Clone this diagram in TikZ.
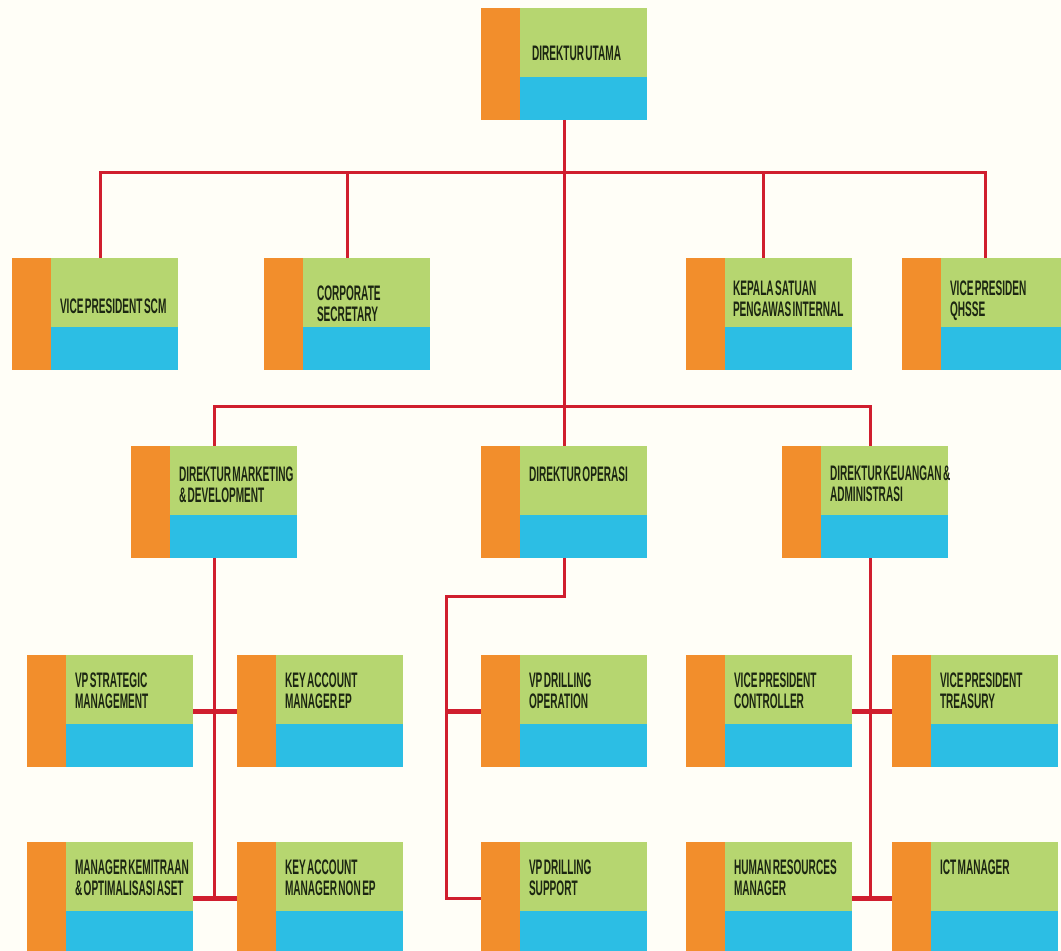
\documentclass[tikz,border=0pt]{standalone}
\usepackage{fontspec}
\usepackage{tikz}
\usetikzlibrary{positioning}
\usepackage{xcolor}
\newfontfamily\orgfont[FakeStretch=0.48,WordSpace=0.5]{Liberation Sans Bold}
\definecolor{orgorange}{RGB}{242,142,44}
\definecolor{orggreen}{RGB}{182,214,112}
\definecolor{orgblue}{RGB}{44,190,228}
\definecolor{orgred}{RGB}{208,30,46}
\definecolor{orgtext}{RGB}{28,38,18}
\definecolor{orgpaper}{RGB}{255,254,247}
\tikzstyle{org_box}=[rectangle, minimum width=166pt, minimum height=112pt, inner sep=0pt, fill=orggreen,
    path picture={
        \fill[orgorange] (path picture bounding box.north west) rectangle ([xshift=39pt]path picture bounding box.south west);
        \fill[orgblue] ([xshift=39pt,yshift=43pt]path picture bounding box.south west) rectangle (path picture bounding box.south east);
    }]
\tikzstyle{org_label}=[inner sep=0pt, align=left, text=orgtext, font=\orgfont\fontsize{21pt}{21pt}\selectfont]
\tikzstyle{connect}=[line width=3pt, orgred]
\tikzstyle{connect tie}=[line width=5pt, orgred]

\begin{document}
\begin{tikzpicture}[x=1pt, y=-1pt]
    \fill[orgpaper] (0,0) rectangle (1061,951);
    \clip (0,0) rectangle (1061,951);

% board and staff
        \node[org_box] (dirut) at (564,64) {};
        \node[org_box] (vpscm) at (95,314) {};
        \node[org_box] (corsec) at (347,314) {};
        \node[org_box] (spi) at (769,314) {};
        \node[org_box] (qhsse) at (985,314) {};
        % directors
        \node[org_box] (dirmkt) at (214,502) {};
        \node[org_box] (dirops) at (564,502) {};
        \node[org_box] (dirkeu) at (865,502) {};
        % vice presidents and managers
        \node[org_box] (vpsm) at (110,711) {};
        \node[org_box] (kamep) at (320,711) {};
        \node[org_box] (vpdo) at (564,711) {};
        \node[org_box] (vpctrl) at (769,711) {};
        \node[org_box] (vptrs) at (975,711) {};
        \node[org_box] (mkoa) at (110,898) {};
        \node[org_box] (kamnep) at (320,898) {};
        \node[org_box] (vpds) at (564,898) {};
        \node[org_box] (hrm) at (769,898) {};
        \node[org_box] (ict) at (975,898) {};

        % labels
        \node[org_label, below right=38pt and 51pt of dirut.north west] (dirut_t) {DIREKTUR UTAMA};
        \node[org_label, below right=41pt and 48pt of vpscm.north west] (vpscm_t) {VICE PRESIDENT SCM};
        \node[org_label, below right=28pt and 53pt of corsec.north west] (corsec_t) {CORPORATE\\SECRETARY};
        \node[org_label, below right=23pt and 47pt of spi.north west] (spi_t) {KEPALA SATUAN\\PENGAWAS INTERNAL};
        \node[org_label, below right=23pt and 48pt of qhsse.north west] (qhsse_t) {VICE PRESIDEN\\QHSSE};
        \node[org_label, below right=21pt and 48pt of dirmkt.north west] (dirmkt_t) {DIREKTUR MARKETING\\\& DEVELOPMENT};
        \node[org_label, below right=21pt and 48pt of dirops.north west] (dirops_t) {DIREKTUR OPERASI};
        \node[org_label, below right=20pt and 48pt of dirkeu.north west] (dirkeu_t) {DIREKTUR KEUANGAN \&\\ADMINISTRASI};
        \node[org_label, below right=18pt and 48pt of vpsm.north west] (vpsm_t) {VP STRATEGIC\\MANAGEMENT};
        \node[org_label, below right=18pt and 48pt of kamep.north west] (kamep_t) {KEY ACCOUNT\\MANAGER EP};
        \node[org_label, below right=18pt and 48pt of vpdo.north west] (vpdo_t) {VP DRILLING\\OPERATION};
        \node[org_label, below right=18pt and 48pt of vpctrl.north west] (vpctrl_t) {VICE PRESIDENT\\CONTROLLER};
        \node[org_label, below right=18pt and 48pt of vptrs.north west] (vptrs_t) {VICE PRESIDENT\\TREASURY};
        \node[org_label, below right=18pt and 48pt of mkoa.north west] (mkoa_t) {MANAGER KEMITRAAN\\\& OPTIMALISASI ASET};
        \node[org_label, below right=18pt and 48pt of kamnep.north west] (kamnep_t) {KEY ACCOUNT\\MANAGER NON EP};
        \node[org_label, below right=18pt and 48pt of vpds.north west] (vpds_t) {VP DRILLING\\SUPPORT};
        \node[org_label, below right=18pt and 48pt of hrm.north west] (hrm_t) {HUMAN RESOURCES\\MANAGER};
        \node[org_label, below right=18pt and 48pt of ict.north west] (ict_t) {ICT MANAGER};

        \coordinate (staffbar) at (564,172);
        \coordinate (dirbar) at (564,406);
        \coordinate (opsbend) at (446,596);

        \begin{scope}[connect]
            \draw (dirut.south) -- (dirops.north);
            \draw ([xshift=5pt]vpscm.north) |- (staffbar) -| (qhsse.north);
            \draw (corsec.north) -- (corsec.north |- staffbar);
            \draw ([xshift=-6pt]spi.north) -- ([xshift=-6pt]spi.north |- staffbar);

            \draw (dirmkt.north) |- (dirbar) -| ([xshift=5pt]dirkeu.north);

            \draw (dirmkt.south) -- (dirmkt.south |- mkoa.east);
            \draw (dirops.south) |- (opsbend) |- (vpds.west);
            \draw ([xshift=5pt]dirkeu.south) -- ([xshift=5pt]dirkeu.south |- hrm.east);
        \end{scope}

        \begin{scope}[connect tie]
            \draw (vpsm.east) -- (kamep.west);
            \draw (mkoa.east) -- (kamnep.west);
            \draw (vpdo.west) -- (vpdo.west -| opsbend);
            \draw (vpctrl.east) -- (vptrs.west);
            \draw (hrm.east) -- (ict.west);
        \end{scope}

\end{tikzpicture}
\end{document}
